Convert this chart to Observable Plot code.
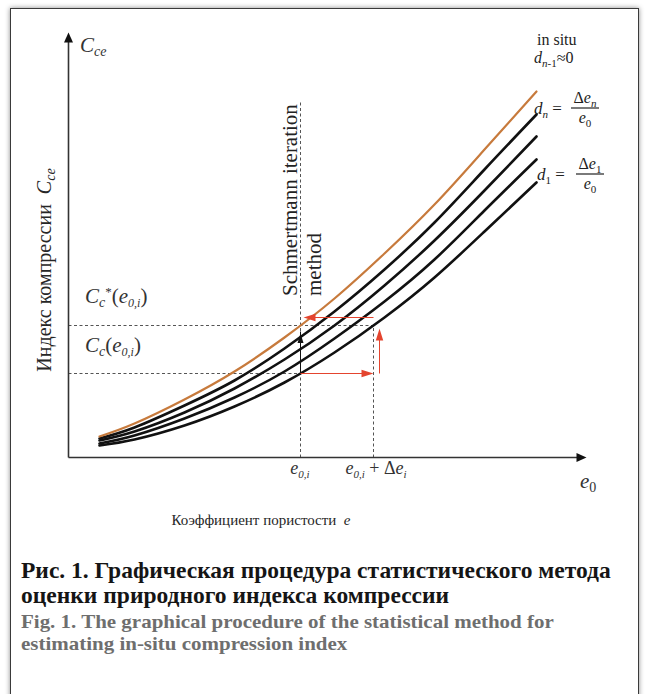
<!DOCTYPE html>
<html><head><meta charset="utf-8">
<script src="https://cdn.jsdelivr.net/npm/d3@7"></script>
<script src="https://cdn.jsdelivr.net/npm/@observablehq/plot@0.6"></script>
<style>
body{margin:0;background:#fff;width:647px;height:694px;overflow:hidden;position:relative;font-family:"Liberation Serif",serif;}
#frame{position:absolute;left:10px;top:8px;width:627px;height:720px;border:1.5px solid #3a3a3a;box-shadow:0 0 5px rgba(0,0,0,0.45);}
#chart{position:absolute;left:0;top:0;}
.cap{position:absolute;left:21px;white-space:nowrap;font-weight:bold;transform-origin:0 0;}
</style></head><body>
<div id="frame"></div>
<div id="chart"></div>
<div class="cap" style="top:558px;font-size:22.5px;line-height:25px;color:#151515;transform:scaleX(1.045)">Рис. 1. Графическая процедура статистического метода<br>оценки природного индекса компрессии</div>
<div class="cap" style="top:611px;font-size:19.5px;line-height:22px;color:#6e6e6e;transform:scaleX(1.075)">Fig. 1. The graphical procedure of the statistical method for<br>estimating in-situ compression index</div>
<script>
// void ratio e0 (schematic units) and compression index curves
const e0 = [0.31, 0.66, 1.16, 1.66, 2.16, 2.66, 3.16, 3.66, 4.16, 4.68];
const ccInSitu = [0.21, 0.34, 0.58, 0.86, 1.20, 1.59, 2.04, 2.53, 3.08, 3.66];
const ccDn     = [0.19, 0.30, 0.52, 0.77, 1.09, 1.46, 1.88, 2.35, 2.88, 3.43];
const ccD3     = [0.17, 0.26, 0.45, 0.69, 0.98, 1.32, 1.72, 2.17, 2.67, 3.21];
const ccD2     = [0.14, 0.22, 0.39, 0.60, 0.86, 1.19, 1.56, 1.98, 2.47, 2.98];
const ccD1     = [0.12, 0.18, 0.32, 0.51, 0.75, 1.05, 1.40, 1.80, 2.26, 2.75];
const e0i = 2.32, deltaE = 0.73;
const ccMeasured = 0.84, ccCorrected = 1.32;
const xMax = 5.18, yMax = 4.25;

const rows = [];
[["d1", ccD1], ["d2", ccD2], ["d3", ccD3], ["dn", ccDn], ["insitu", ccInSitu]]
  .forEach(([name, vals]) => vals.forEach((v, i) => rows.push({series: name, e: e0[i], cc: v})));

const head = (len, half) => ({draw(ctx, size) {
  const r = Math.sqrt(size / Math.PI);
  ctx.moveTo(0, 0); ctx.lineTo(half * r, len * r); ctx.lineTo(-half * r, len * r); ctx.closePath();
}});
const axisHead = head(2, 0.9), smallHead = head(2.4, 0.75);
const RED = "#e4442e";
const L = (arr, o) => Plot.link(arr, {x1: "x1", y1: "y1", x2: "x2", y2: "y2", ...o});
const H = (arr, o) => Plot.dot(arr, {x: "x", y: "y", stroke: null, ...o});

const plot = Plot.plot({
  width: 647, height: 540,
  marginLeft: 68, marginRight: 61, marginTop: 32, marginBottom: 83,
  x: {domain: [0, xMax], axis: null},
  y: {domain: [0, yMax], axis: null},
  style: {background: "transparent", overflow: "visible"},
  marks: [
    // dashed guides
    L([{x1: 0, y1: ccCorrected, x2: e0i + deltaE, y2: ccCorrected},
       {x1: 0, y1: ccMeasured, x2: e0i, y2: ccMeasured},
       {x1: e0i, y1: 0, x2: e0i, y2: 3.57},
       {x1: e0i + deltaE, y1: 0, x2: e0i + deltaE, y2: ccCorrected}],
      {stroke: "#555", strokeWidth: 1, strokeDasharray: "3,2.5"}),
    // curves
    Plot.line(rows.filter(d => d.series !== "insitu"), {x: "e", y: "cc", z: "series", stroke: "#111", strokeWidth: 2.6, curve: "natural"}),
    Plot.line(rows.filter(d => d.series === "insitu"), {x: "e", y: "cc", stroke: "#c77a3c", strokeWidth: 2.2, curve: "natural"}),
    // axes
    L([{x1: 0, y1: 0, x2: xMax - 0.06, y2: 0}, {x1: 0, y1: 0, x2: 0, y2: yMax - 0.06}], {stroke: "#333", strokeWidth: 1.6}),
    H([{x: xMax, y: 0}], {symbol: axisHead, r: 5, rotate: 90, fill: "#111"}),
    H([{x: 0, y: yMax}], {symbol: axisHead, r: 5, rotate: 0, fill: "#111"}),
    // black correction arrow
    L([{x1: e0i, y1: ccMeasured, x2: e0i, y2: 1.26}], {stroke: "#111", strokeWidth: 1}),
    H([{x: e0i, y: 1.24}], {symbol: smallHead, r: 4, rotate: 0, fill: "#111"}),
    // red iteration arrows
    L([{x1: e0i, y1: ccMeasured, x2: e0i + deltaE - 0.05, y2: ccMeasured},
       {x1: e0i + deltaE + 0.06, y1: ccMeasured, x2: e0i + deltaE + 0.06, y2: 1.25},
       {x1: e0i + deltaE, y1: 1.40, x2: e0i + 0.08, y2: 1.40}], {stroke: RED, strokeWidth: 1}),
    H([{x: e0i + deltaE, y: ccMeasured, a: 90}, {x: e0i + deltaE + 0.06, y: 1.29, a: 0}, {x: e0i + 0.03, y: 1.40, a: 270}],
      {symbol: smallHead, r: 5, rotate: "a", fill: RED})
  ]
});
document.getElementById("chart").appendChild(plot);

// rich text labels placed through the scales
const sx = plot.scale("x"), sy = plot.scale("y");
const X = v => sx.apply(v), Y = v => sy.apply(v);
const svg = d3.select(plot);
const FONT = '"Liberation Serif", "Times New Roman", serif';
function rich(parts, x, y, o = {}) {
  const t = svg.append("text").attr("x", x).attr("y", y)
    .attr("font-family", FONT).attr("font-size", o.size || 16)
    .attr("fill", o.fill || "#222").attr("text-anchor", o.anchor || "start");
  if (o.rotate) t.attr("transform", `rotate(${o.rotate},${x},${y})`);
  let shift = 0;
  for (const p of parts) {
    const s = t.append("tspan").text(p.t);
    if (p.i) s.attr("font-style", "italic");
    const sh = p.sh || 0;
    if (sh !== shift) { s.attr("dy", sh - shift); shift = sh; }
    if (p.small) s.attr("font-size", p.small);
  }
  return t;
}
const sub = (t, i = true, size = 11) => ({t, i, sh: 4, small: size});

// axis title at the top of y axis
rich([{t: "C", i: true}, sub("ce", true, 14)], X(0.12), Y(4.05), {size: 21, fill: "#333"});
// y axis label
rich([{t: "Индекс компрессии  "}, {t: "C", i: true}, sub("ce", true, 14)], 51, Y(1.87), {size: 20, anchor: "middle", rotate: -90, fill: "#262626"});
// x axis label
rich([{t: "Коэффициент пористости  "}, {t: "e", i: true}], X(1.93), Y(-0.68), {size: 15, anchor: "middle", fill: "#262626"});
// tick labels
rich([{t: "e", i: true}, sub("0,i", true, 11)], X(e0i), Y(-0.17), {size: 18, anchor: "middle", fill: "#333"});
rich([{t: "e", i: true}, sub("0,i", true, 11), {t: " + Δ", sh: 0}, {t: "e", i: true}, sub("i", true, 11)], X(e0i + deltaE) + 3, Y(-0.17), {size: 18, anchor: "middle", fill: "#333"});
rich([{t: "e", i: true}, sub("0", false, 14)], X(5.12), Y(-0.31), {size: 21, fill: "#333"});
// left level labels
rich([{t: "C", i: true}, sub("c", true, 14), {t: "*", sh: -7, small: 13}, {t: "(", sh: 0}, {t: "e", i: true}, sub("0,i", true, 12), {t: ")", sh: 0}], X(0.17), Y(1.54), {size: 21, fill: "#333"});
rich([{t: "C", i: true}, sub("c", true, 14), {t: "(", sh: 0}, {t: "e", i: true}, sub("0,i", true, 12), {t: ")", sh: 0}], X(0.17), Y(1.05), {size: 21, fill: "#333"});
// Schmertmann label
rich([{t: "Schmertmann iteration"}], X(e0i) - 3, Y(1.61), {size: 21, rotate: -90});
rich([{t: "method"}], X(e0i) + 21, Y(1.61), {size: 21, rotate: -90});
// right-hand curve labels
rich([{t: "in situ"}], X(4.69), Y(4.12), {size: 16, fill: "#222"});
rich([{t: "d", i: true}, {t: "n", i: true, sh: 4, small: 11}, {t: "-1", i: false, sh: 4, small: 11}, {t: "≈0", sh: 0}], X(4.66), Y(3.94), {size: 16, fill: "#222"});
function frac(xs, base, s, italicSub, off) {
  rich([{t: "d", i: true}, sub(s, italicSub, 11), {t: " =", sh: 0}], xs, base, {size: 17, fill: "#222"});
  const cx = xs + off;
  rich([{t: "Δ"}, {t: "e", i: true}, sub(s, italicSub, 11)], cx, base - 11, {size: 16, anchor: "middle", fill: "#222"});
  svg.append("line").attr("x1", cx - 14).attr("x2", cx + 14).attr("y1", base - 6).attr("y2", base - 6).attr("stroke", "#222").attr("stroke-width", 1.2);
  rich([{t: "e", i: true}, sub("0", false, 11)], cx, base + 9, {size: 16, anchor: "middle", fill: "#222"});
}
frac(X(4.66), Y(3.43), "n", true, 51);
frac(X(4.69), Y(2.77), "1", false, 53);
</script>
</body></html>
